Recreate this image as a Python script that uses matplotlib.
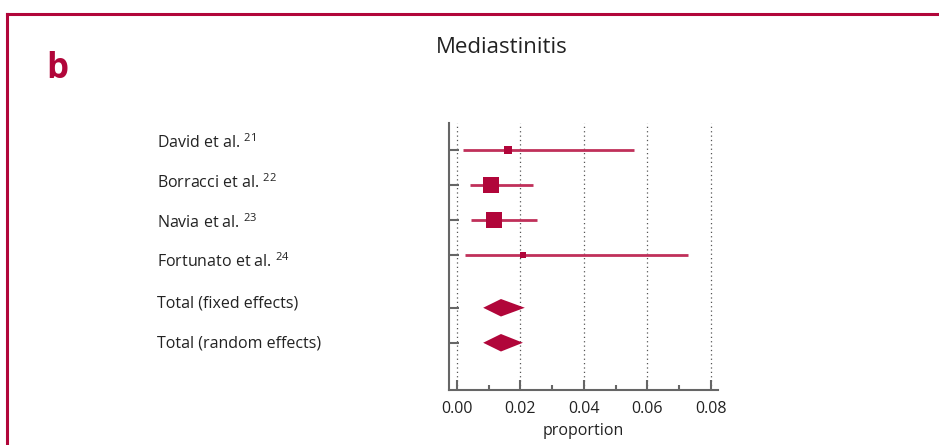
import numpy as np
import matplotlib.pyplot as plt
from matplotlib.patches import Polygon

plt.rcParams['font.family'] = ['Open Sans', 'DejaVu Sans']

studies = ["David et al.", "Borracci et al.", "Navia et al.", "Fortunato et al."]
refs = ["21", "22", "23", "24"]
est = [0.0161, 0.0108, 0.0117, 0.0209]
lo = [0.0021, 0.0041, 0.0044, 0.0025]
hi = [0.0556, 0.0239, 0.0252, 0.0728]
weights = [11.6, 40.9, 40.9, 6.5]

totals = ["Total (fixed effects)", "Total (random effects)"]
tot_est = [0.0139, 0.0139]
tot_lo = [0.0083, 0.0083]
tot_hi = [0.0214, 0.0208]

xticks = [0.00, 0.02, 0.04, 0.06, 0.08]

red = "#b1063a"
line_red = "#c0305a"
txt = "#222222"

fig = plt.figure(figsize=(9.39, 4.45), dpi=100)

# red frame
fig.add_artist(plt.Line2D([0.0075, 1.0], [0.968, 0.968], color=red, lw=2.2,
                          transform=fig.transFigure))
fig.add_artist(plt.Line2D([0.0075, 0.0075], [0.968, 0.0], color=red, lw=2.2,
                          transform=fig.transFigure))
fig.text(0.049, 0.845, "b", color=red, fontsize=25, fontweight="bold",
         ha="left", va="center")
fig.text(0.534, 0.893, "Mediastinitis", color=txt, fontsize=16,
         ha="center", va="center")

ax = fig.add_axes([0.478, 0.1236, 0.2867, 0.6])
ypos = [0, 1, 2, 3, 4.52, 5.52]

for x in xticks:
    ax.axvline(x, color="#555555", ls=(0, (1, 2.5)), lw=0.9, zorder=0)

for i in range(len(studies)):
    ax.plot([lo[i], hi[i]], [ypos[i], ypos[i]], color=line_red, lw=2, zorder=2,
            solid_capstyle="butt")
    ax.plot(est[i], ypos[i], marker="s", color=red, ms=np.sqrt(weights[i]) * 1.7,
            mew=0, zorder=3)

for j in range(len(totals)):
    y = ypos[4 + j]
    h = 0.25
    ax.add_patch(Polygon([[tot_lo[j], y], [tot_est[j], y - h], [tot_hi[j], y],
                          [tot_est[j], y + h]], closed=True, color=red, lw=0, zorder=3))

ax.set_xlim(-0.0025, 0.0822)
ax.set_ylim(6.87, -0.76)
ax.set_yticks(ypos)
ax.set_yticklabels([])
ax.set_xticks(xticks)
ax.set_xticklabels(["%.2f" % x for x in xticks], fontsize=11.5, color=txt)
ax.set_xticks(np.arange(0.01, 0.08, 0.02), minor=True)
ax.tick_params(axis="x", which="major", direction="in", length=7, width=1.5,
               color="#666666", pad=8)
ax.tick_params(axis="x", which="minor", direction="in", length=3.5, width=1.5,
               color="#666666")
ax.tick_params(axis="y", direction="in", length=7, width=1.5, color="#666666")
for s in ["top", "right"]:
    ax.spines[s].set_visible(False)
for s in ["left", "bottom"]:
    ax.spines[s].set_color("#666666")
    ax.spines[s].set_linewidth(1.5)
ax.set_xlabel("proportion", fontsize=11.5, color=txt, labelpad=4)

labels = studies + totals
for k, lab in enumerate(labels):
    yf = 1 - (148 + k * 39.8) / 445
    if k < len(refs):
        lab = lab + r" $^{\mathregular{%s}}$" % refs[k]
    fig.text(157 / 939, yf, lab, fontsize=11.5, color=txt, ha="left", va="baseline")

fig.savefig("out.png", dpi=100)
